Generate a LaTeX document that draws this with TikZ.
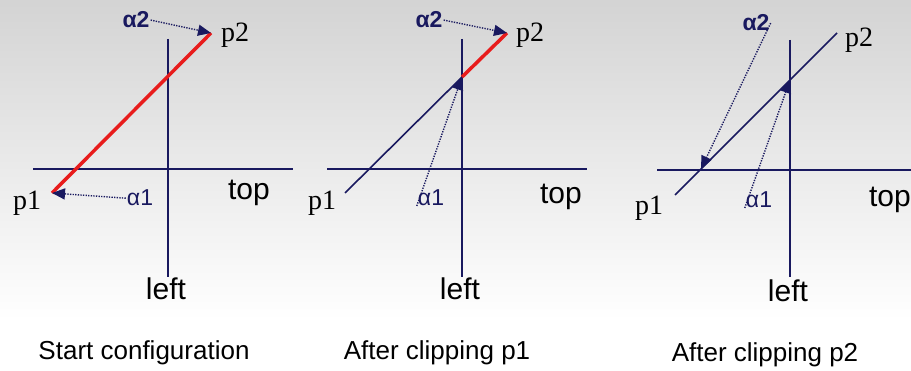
\documentclass[tikz,border=0pt]{standalone}
\usepackage{fontspec}
\setmainfont{Liberation Sans}
\newfontfamily\ptfont{Liberation Serif}
\usepackage{tikz}
\usetikzlibrary{arrows.meta}
\definecolor{navy}{RGB}{25,25,95}
\definecolor{segred}{RGB}{232,28,28}

\begin{document}
\begin{tikzpicture}[x=1pt, y=-1pt,
    axis/.style={draw=navy, line width=1.6pt},
    seg/.style={draw=navy, line width=1.6pt},
    redseg/.style={draw=segred, line width=3.5pt},
    dots/.style={draw=navy, line width=1.4pt, dash pattern=on 1.3pt off 1.3pt, -{Triangle[length=13pt, width=11pt]}},
    plbl/.style={anchor=base, inner sep=1pt, font=\ptfont\fontsize{28}{28}\selectfont},
    albl/.style={anchor=base, inner sep=1pt, text=navy, font=\fontsize{23}{23}\selectfont},
    axlbl/.style={anchor=base, inner sep=1pt, font=\fontsize{30}{30}\selectfont},
    captxt/.style={anchor=base, inner sep=1pt, font=\fontsize{26}{26}\selectfont},
]
\useasboundingbox (0,0) rectangle (911,371);

% background
\fill[white] (0,0) rectangle (911,371);
\shade[top color=black!17, bottom color=white] (0,0) rectangle (911,320);

% Start configuration
\coordinate (hal) at (33,169);
\coordinate (har) at (293,169);
\coordinate (vat) at (168,39);
\coordinate (vab) at (168,277);
\coordinate (pa1) at (52,193);
\coordinate (pa2) at (211,33);
\draw[axis] (hal) -- (har);
\draw[axis] (vat) -- (vab);
\draw[redseg] (pa1) -- (pa2);
\node[plbl] (p1a) at (27,210) {p1};
\node[plbl] (p2a) at (235,42) {p2};
\node[albl] (a2a) at (136,28) {\bfseries α2};
\node[albl] (a1a) at (140,206) {α1};
\node[axlbl] (topa) at (249,200) {top};
\node[axlbl] (lefta) at (166,300) {left};
\node[captxt] (capa) at (144,360) {Start configuration};
\draw[dots] (a2a.east) -- (pa2);
\draw[dots] (a1a.west) -- (pa1);

% After clipping p1
\coordinate (hbl) at (327,169);
\coordinate (hbr) at (587,169);
\coordinate (vbt) at (462,39);
\coordinate (vbb) at (462,277);
\coordinate (pb1) at (345,193);
\coordinate (pb2) at (507,33);
\coordinate (ib) at (462,77);
\draw[axis] (hbl) -- (hbr);
\draw[axis] (vbt) -- (vbb);
\draw[seg] (pb1) -- (ib);
\draw[redseg] (ib) -- (pb2);
\node[plbl] (p1b) at (322,210) {p1};
\node[plbl] (p2b) at (530,42) {p2};
\node[albl] (a2b) at (429,28) {\bfseries α2};
\node[albl] (a1b) at (431,206) {α1};
\node[axlbl] (topb) at (561,204) {top};
\node[axlbl] (leftb) at (460,300) {left};
\node[captxt] (capb) at (437,360) {After clipping p1};
\draw[dots] (a2b.east) -- (pb2);
\draw[dots] (a1b.base west) -- (ib);

% After clipping p2
\coordinate (hcl) at (657,170);
\coordinate (hcr) at (911,170);
\coordinate (vct) at (790,40);
\coordinate (vcb) at (790,277);
\coordinate (pc1) at (675,195);
\coordinate (pc2) at (837,33);
\coordinate (ic1) at (790,80);
\coordinate (ic2) at (701,169);
\draw[axis] (hcl) -- (hcr);
\draw[axis] (vct) -- (vcb);
\draw[seg] (pc1) -- (pc2);
\node[plbl] (p1c) at (649,215) {p1};
\node[plbl] (p2c) at (859,47) {p2};
\node[albl] (a2c) at (756,31) {\bfseries α2};
\node[albl] (a1c) at (759,208) {α1};
\node[axlbl] (topc) at (890,207) {top};
\node[axlbl] (leftc) at (788,302) {left};
\node[captxt] (capc) at (765,362) {After clipping p2};
\draw[dots] (a2c.east) -- (ic2);
\draw[dots] (a1c.base west) -- (ic1);

\end{tikzpicture}
\end{document}
